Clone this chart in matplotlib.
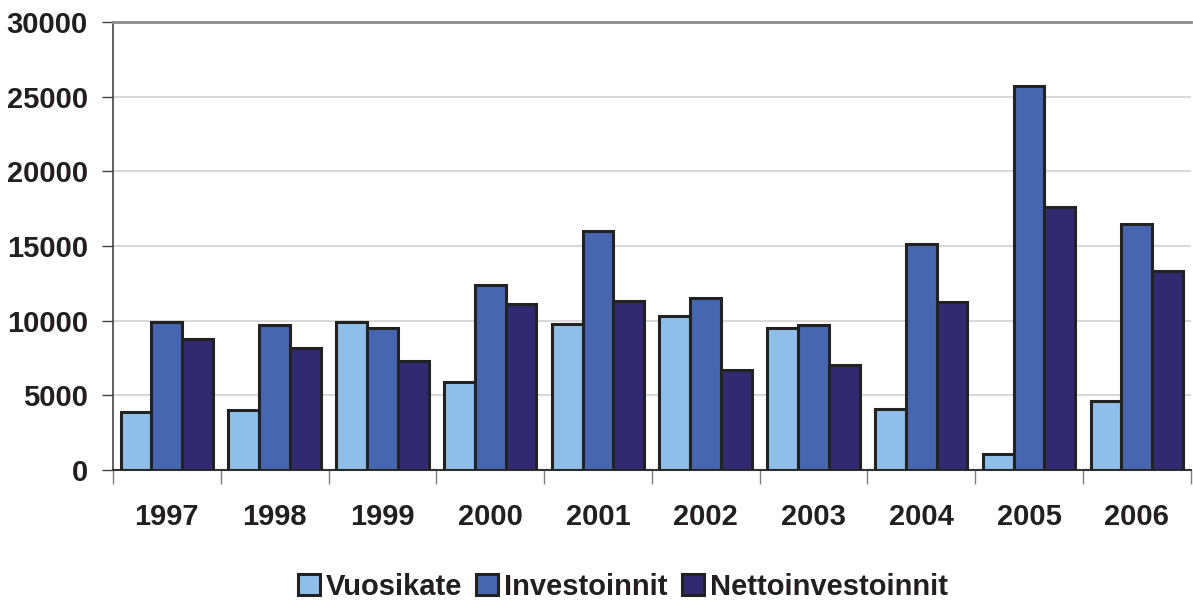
import numpy as np
import matplotlib.pyplot as plt

years = ['1997', '1998', '1999', '2000', '2001', '2002', '2003', '2004', '2005', '2006']
vuosikate = [3900, 4000, 9900, 5900, 9800, 10300, 9500, 4100, 1100, 4600]
investoinnit = [9900, 9700, 9500, 12400, 16000, 11550, 9700, 15150, 25700, 16500]
nettoinvestoinnit = [8800, 8200, 7300, 11100, 11300, 6700, 7050, 11250, 17600, 13300]

plt.rcParams['font.family'] = ['Liberation Sans', 'DejaVu Sans']
plt.rcParams['font.weight'] = 'bold'

fig = plt.figure(figsize=(11.93, 6.07), dpi=100)
ax = fig.add_axes([0.0947, 0.2257, 0.9033, 0.7381])

x = np.arange(len(years))
w = 0.286
series = [(vuosikate, '#8fbfe8', 'Vuosikate'),
          (investoinnit, '#4866b0', 'Investoinnit'),
          (nettoinvestoinnit, '#312a70', 'Nettoinvestoinnit')]
for i, (vals, col, name) in enumerate(series):
    ax.bar(x + (i - 1) * w, vals, w, color=col, edgecolor='#222222',
           linewidth=2.2, label=name, zorder=3)

ax.set_xlim(-0.5, len(years) - 0.5)
ax.set_ylim(0, 30000)
ax.set_yticks(range(0, 30001, 5000))
ax.yaxis.grid(True, color='#d9d9d9', linewidth=1.5, zorder=0)

ax.set_xticks(x)
ax.set_xticklabels(years)
ax.set_xticks(np.arange(-0.5, len(years)), minor=True)
ax.tick_params(axis='x', which='major', length=0, pad=24, labelsize=21)
ax.tick_params(axis='x', which='minor', length=10, width=1, color='#7f7f7f')
ax.tick_params(axis='y', length=8, width=1, color='#444444', labelsize=21, pad=10)
for lab in ax.get_xticklabels() + ax.get_yticklabels():
    lab.set_fontweight('bold')
    lab.set_color('#231f20')

ax.spines['right'].set_visible(False)
ax.spines['top'].set_color('#8c8c8c')
ax.spines['top'].set_linewidth(2)
ax.spines['left'].set_color('#444444')
ax.spines['left'].set_linewidth(1.2)
ax.spines['bottom'].set_color('#333333')
ax.spines['bottom'].set_linewidth(1.5)

leg = fig.legend(loc='center', bbox_to_anchor=(0.522, 0.033), ncol=3,
                 frameon=False, fontsize=21, handlelength=0.75,
                 handleheight=0.75, handletextpad=0.2, columnspacing=0.5)
for t in leg.get_texts():
    t.set_fontweight('bold')
    t.set_color('#231f20')

fig.savefig('out.png', dpi=100)
